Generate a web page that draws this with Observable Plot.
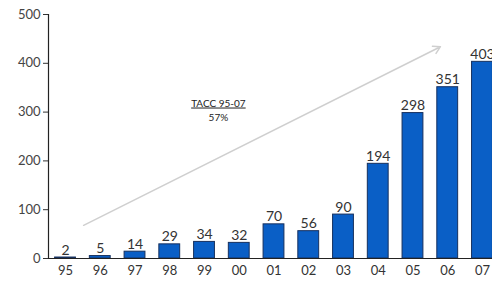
<!DOCTYPE html>
<html><head><meta charset="utf-8">
<script src="https://cdn.jsdelivr.net/npm/d3@7"></script>
<script src="https://cdn.jsdelivr.net/npm/@observablehq/plot@0.6"></script>
<style>body{margin:0;background:#fff}</style>
</head><body><div id="chart"></div>
<script>
const years = ["95","96","97","98","99","00","01","02","03","04","05","06","07"];
const values = [2,5,14,29,34,32,70,56,90,194,298,351,403];
const yTicks = [0,100,200,300,400,500];
const annotTitle = "TACC 95-07";
const annotValue = "57%";
const trendStart = {i: 0.52, v: 68};
const trendEnd = {i: 10.79, v: 434};

const data = years.map((y, i) => ({i, year: y, value: values[i]}));

const chart = Plot.plot({
  width: 492,
  height: 282,
  marginTop: 14,
  marginBottom: 24,
  marginLeft: 48,
  marginRight: 0,
  style: {fontFamily: "Lato, sans-serif", background: "#fff", color: "#333"},
  x: {domain: [-0.49, 12.49], range: [48, 499], axis: null},
  y: {domain: [0, 500], axis: null},
  marks: [
    Plot.axisY({ticks: yTicks, tickSize: 5, tickPadding: 3, fontSize: 13, label: null, stroke: "#333", color: "#444"}),
    Plot.ruleX([-0.49], {y1: 0, y2: 500, stroke: "#222", strokeWidth: 1.2}),
    Plot.axisX({ticks: d3.range(years.length), tickFormat: i => years[i], tickSize: 0, tickPadding: 7, fontSize: 13, label: null, color: "#333"}),
    Plot.arrow([0], {x1: () => trendStart.i, y1: () => trendStart.v, x2: () => trendEnd.i, y2: () => trendEnd.v, stroke: "#cfcfcf", strokeWidth: 1.5, headLength: 8}),
    Plot.rectY(data, {x1: d => d.i - 0.3, x2: d => d.i + 0.3, y: "value", fill: "#0a5fc6", stroke: "#16305e", strokeWidth: 1}),
    Plot.text(data, {x: "i", y: "value", text: d => String(d.value), lineAnchor: "bottom", dy: -3, fontSize: 14, fill: "#333"}),
    Plot.text([annotTitle], {x: () => 4.4, y: () => 318, text: d => d, fontSize: 10, fill: "#222", className: "annot-title"}),
    Plot.text([annotValue], {x: () => 4.4, y: () => 289, text: d => d, fontSize: 10, fill: "#222"}),
    Plot.ruleY([0], {stroke: "#222", strokeWidth: 1.2})
  ]
});
d3.select(chart).selectAll(".annot-title text").attr("text-decoration", "underline");
document.getElementById("chart").appendChild(chart);
</script>
</body></html>
